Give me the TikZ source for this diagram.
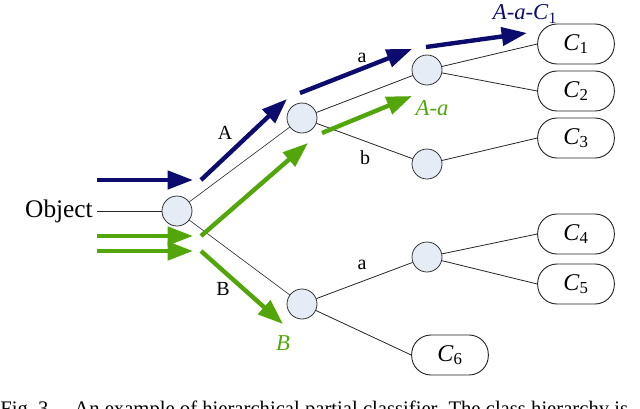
\documentclass[tikz,border=0pt]{standalone}
\usepackage{fontspec}
\setmainfont{Liberation Serif}
\usetikzlibrary{arrows.meta}
\definecolor{navyarrow}{RGB}{12,12,110}
\definecolor{greenarrow}{RGB}{82,166,10}
\definecolor{nodefill}{RGB}{230,236,246}
\newcommand\Csub[1]{\textit{C}\textsubscript{#1}}
\tikzset{
  inner/.style={circle, draw=black!80, line width=0.6pt, fill=nodefill, minimum size=22.5pt, inner sep=0pt},
  leafbox/.style={rectangle, rounded corners=14.5pt, draw=black!85, line width=0.7pt, minimum width=57.5pt, minimum height=30pt, inner sep=0pt, font=\fontsize{18}{20}\selectfont},
  edge/.style={draw=black!85, line width=0.6pt},
  lbl/.style={font=\fontsize{15}{17}\selectfont, inner sep=0pt},
  bigarrow/.style={line width=3.3pt, -{Triangle[length=19pt,width=13.5pt]}},
  navyarr/.style={bigarrow, draw=navyarrow},
  greenarr/.style={bigarrow, draw=greenarrow},
}
\begin{document}
\begin{tikzpicture}[x=0.75pt,y=-0.75pt]
\useasboundingbox (0,0) rectangle (640,408);
\clip (0,0) rectangle (640,408);
% nodes
\node[font=\fontsize{19}{21}\selectfont, inner sep=0pt] (obj) at (59,211) {Object};
\node[inner] (r) at (177,211) {};
\node[inner] (A) at (302,118) {};
\node[inner] (B) at (302,304) {};
\node[inner] (Aa) at (427,70) {};
\node[inner] (Ab) at (427,164) {};
\node[inner] (Ba) at (427,257) {};
\node[leafbox] (c1) at (576,44) {\Csub{1}};
\node[leafbox] (c2) at (576,91) {\Csub{2}};
\node[leafbox] (c3) at (576,138) {\Csub{3}};
\node[leafbox] (c4) at (576,234) {\Csub{4}};
\node[leafbox] (c5) at (576,284) {\Csub{5}};
\node[leafbox] (c6) at (450,355) {\Csub{6}};
% edges
\draw[edge] ([xshift=3pt]obj.east) -- (r);
\draw[edge, line width=0.45pt] (r) -- (A);
\draw[edge, line width=0.45pt] (r) -- (B);
\draw[edge] (A) -- (Aa);
\draw[edge] (A) -- (Ab);
\draw[edge] (Aa) -- (c1.west);
\draw[edge] (Aa) -- (c2.west);
\draw[edge] (Ab) -- (c3.west);
\draw[edge] (B) -- (Ba);
\draw[edge] (B) -- (c6.west);
\draw[edge] (Ba) -- (c4.west);
\draw[edge] (Ba) -- (c5.west);
% edge labels
\node[lbl] (lA) at (225,133) {A};
\node[lbl] (la1) at (362,58) {a};
\node[lbl] (lb) at (365,158) {b};
\node[lbl] (lB) at (223,289) {B};
\node[lbl] (la2) at (362,265) {a};
% arrow anchor points
\coordinate (n1s) at (97,180); \coordinate (n1e) at (193,180);
\coordinate (n2s) at (201,180); \coordinate (n2e) at (287,99);
\coordinate (n3s) at (300,93); \coordinate (n3e) at (412,49);
\coordinate (n4s) at (426,47); \coordinate (n4e) at (527,33);
\coordinate (g1s) at (97,236); \coordinate (g1e) at (193,236);
\coordinate (g2s) at (97,251); \coordinate (g2e) at (193,251);
\coordinate (g3s) at (201,236); \coordinate (g3e) at (308,143);
\coordinate (g4s) at (322,133); \coordinate (g4e) at (412,96);
\coordinate (g5s) at (201,251); \coordinate (g5e) at (283,324);
% navy arrows
\draw[navyarr] (n1s) -- (n1e);
\draw[navyarr] (n2s) -- (n2e);
\draw[navyarr] (n3s) -- (n3e);
\draw[navyarr] (n4s) -- (n4e);
% green arrows
\draw[greenarr] (g1s) -- (g1e);
\draw[greenarr] (g2s) -- (g2e);
\draw[greenarr] (g3s) -- (g3e);
\draw[greenarr] (g4s) -- (g4e);
\draw[greenarr] (g5s) -- (g5e);
% path labels
\node[lbl, text=navyarrow, font=\fontsize{17}{19}\selectfont] (pAaC) at (525,14) {\textit{A}-\textit{a}-\Csub{1}};
\node[lbl, text=greenarrow, font=\fontsize{17}{19}\selectfont] (pAa) at (432,108) {\textit{A}-\textit{a}};
\node[lbl, text=greenarrow, font=\fontsize{17}{19}\selectfont] (pB) at (283,343) {\textit{B}};
% caption (cut off at the bottom edge, as in the reference)
\node[anchor=base west, inner sep=0pt, font=\fontsize{15.5}{18}\selectfont] (cap) at (0,415) {Fig.~3.\quad An example of hierarchical partial classifier. The class hierarchy is};
\end{tikzpicture}
\end{document}
